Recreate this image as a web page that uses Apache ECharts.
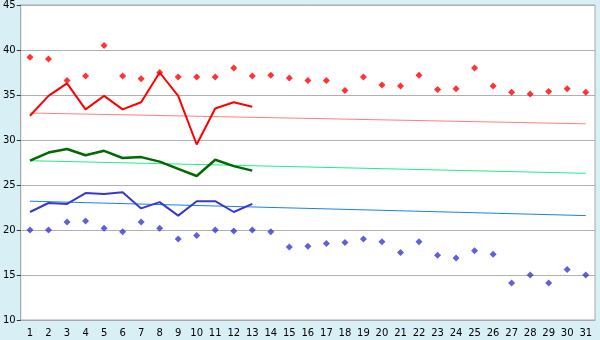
<!DOCTYPE html>
<html>
<head>
<meta charset="utf-8">
<script src="https://cdn.jsdelivr.net/npm/echarts@6/dist/echarts.min.js"></script>
<style>
html,body{margin:0;padding:0;background:#d9eff6;}
#c{width:600px;height:340px;}
</style>
</head>
<body>
<div id="c"></div>
<script>
var days = [];
for (var i = 1; i <= 31; i++) days.push(String(i));

var maxPoints = [39.2, 39.0, 36.6, 37.1, 40.5, 37.1, 36.8, 37.5, 37.0, 37.0, 37.0, 38.0, 37.1, 37.2, 36.9, 36.6, 36.6, 35.5, 37.0, 36.1, 36.0, 37.2, 35.6, 35.7, 38.0, 36.0, 35.3, 35.1, 35.4, 35.7, 35.3];
var minPoints = [20.0, 20.0, 20.9, 21.0, 20.2, 19.8, 20.9, 20.2, 19.0, 19.4, 20.0, 19.9, 20.0, 19.8, 18.1, 18.2, 18.5, 18.6, 19.0, 18.7, 17.5, 18.7, 17.2, 16.9, 17.7, 17.3, 14.1, 15.0, 14.1, 15.6, 15.0];
var maxLine = [32.7, 34.9, 36.3, 33.4, 34.9, 33.4, 34.2, 37.5, 34.9, 29.5, 33.5, 34.2, 33.7];
var avgLine = [27.7, 28.6, 29.0, 28.3, 28.8, 28.0, 28.1, 27.6, 26.8, 26.0, 27.8, 27.1, 26.6];
var minLine = [22.0, 23.0, 22.9, 24.1, 24.0, 24.2, 22.4, 23.1, 21.6, 23.2, 23.2, 22.0, 22.9];
var trendDays = ['1', '31'];
var trendMax = [33.0, 31.8];
var trendAvg = [27.7, 26.3];
var trendMin = [23.2, 21.6];

function pairs(xs, ys) { return xs.map(function (x, i) { return [x, ys[i]]; }); }

var chart = echarts.init(document.getElementById('c'), null, {renderer: 'canvas'});
var font = '"DejaVu Sans", Verdana, sans-serif';
chart.setOption({
  animation: false,
  backgroundColor: '#d9eff6',
  grid: {left: 20, right: 5, top: 5, bottom: 20, show: true, backgroundColor: '#ffffff', borderColor: '#a8a8a8', borderWidth: 1},
  xAxis: {
    type: 'category', data: days, boundaryGap: true,
    axisLine: {lineStyle: {color: '#a8a8a8', width: 1}},
    axisTick: {alignWithLabel: true, length: 5, lineStyle: {color: '#333'}},
    axisLabel: {color: '#000', fontFamily: font, fontSize: 10, margin: 8, interval: 0}
  },
  yAxis: {
    type: 'value', min: 10, max: 45, interval: 5,
    axisLine: {show: true, lineStyle: {color: '#a8a8a8'}},
    axisTick: {show: true, length: 4, lineStyle: {color: '#333'}},
    axisLabel: {color: '#000', fontFamily: font, fontSize: 10, margin: 5},
    splitLine: {lineStyle: {color: '#b0b0b0', width: 1}}
  },
  series: [
    {type: 'line', data: pairs(trendDays, trendMax), symbol: 'none', lineStyle: {color: '#ff8080', width: 1}, z: 1},
    {type: 'line', data: pairs(trendDays, trendAvg), symbol: 'none', lineStyle: {color: '#22ee88', width: 1}, z: 1},
    {type: 'line', data: pairs(trendDays, trendMin), symbol: 'none', lineStyle: {color: '#1a80f0', width: 1}, z: 1},
    {type: 'line', data: maxLine, symbol: 'none', lineStyle: {color: '#ff0000', width: 2}, z: 3},
    {type: 'line', data: avgLine, symbol: 'none', lineStyle: {color: '#006a00', width: 2.5}, z: 3},
    {type: 'line', data: minLine, symbol: 'none', lineStyle: {color: '#3838d0', width: 2}, z: 3},
    {type: 'scatter', data: maxPoints, symbol: 'diamond', symbolSize: 7, itemStyle: {color: '#ff0000'}, z: 4},
    {type: 'scatter', data: minPoints, symbol: 'diamond', symbolSize: 7, itemStyle: {color: '#3838d0'}, z: 4}
  ]
});
</script>
</body>
</html>
